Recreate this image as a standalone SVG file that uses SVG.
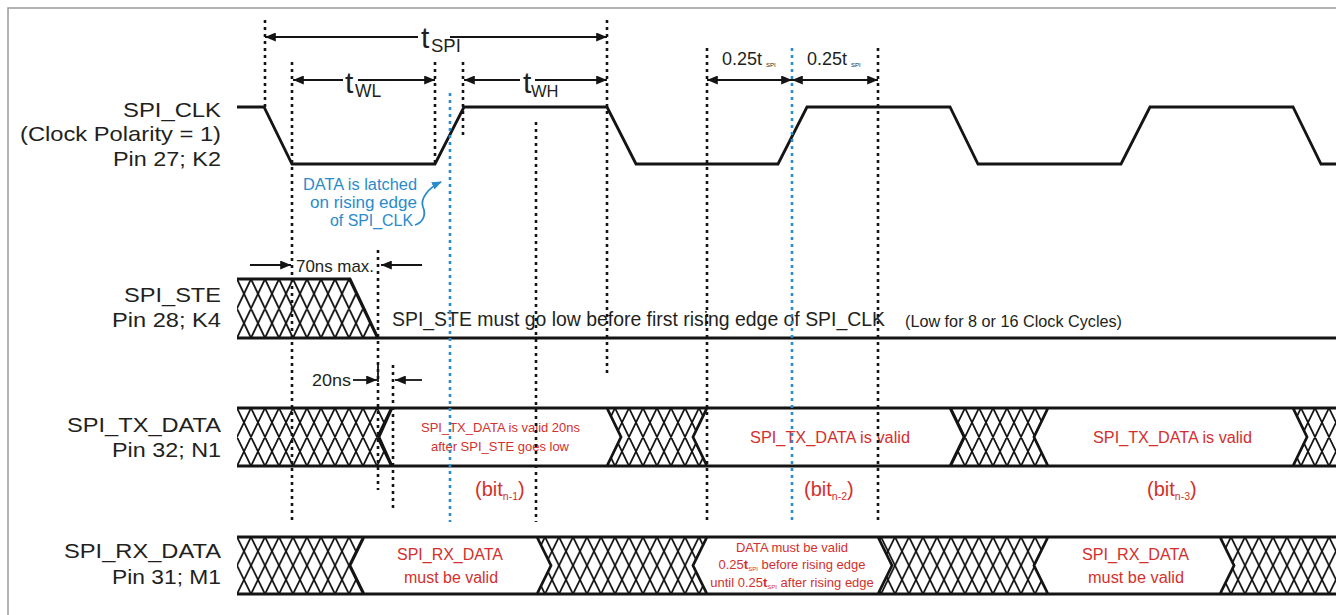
<svg xmlns="http://www.w3.org/2000/svg" width="1336" height="615" viewBox="0 0 1336 615">
<style>
text{font-family:"Liberation Sans",Arial,Helvetica,sans-serif}
.lbl{font-size:21px;fill:#231f20}
.blk{fill:#231f20}
.red{fill:#d3302d}
.blue{fill:#2a8bcb}
.wave{fill:none;stroke:#141414;stroke-width:2.8;stroke-linejoin:miter}
.band{fill:none;stroke:#141414;stroke-width:2.8;stroke-linejoin:miter}
.dot{fill:none;stroke:#141414;stroke-width:2.6;stroke-dasharray:3 4}
.bdot{fill:none;stroke:#2b8ccc;stroke-width:2.6;stroke-dasharray:3 4}
.dim{fill:none;stroke:#141414;stroke-width:1.8}
.frame{fill:none;stroke:#9a9a9a;stroke-width:1.5}
</style>
<defs>
<pattern id="hSTE" patternUnits="userSpaceOnUse" x="237" y="279" width="14" height="29.5">
<path d="M-14.95,-2 L0.95,31.5 M-0.95,-2 L14.95,31.5 M13.05,-2 L28.95,31.5 M0.95,-2 L-14.95,31.5 M14.95,-2 L-0.95,31.5 M28.95,-2 L13.05,31.5" stroke="#141414" stroke-width="1.8" fill="none"/>
</pattern>
<pattern id="hTX" patternUnits="userSpaceOnUse" x="237" y="408" width="14" height="29">
<path d="M-14.97,-2 L0.97,31 M-0.97,-2 L14.97,31 M13.03,-2 L28.97,31 M0.97,-2 L-14.97,31 M14.97,-2 L-0.97,31 M28.97,-2 L13.03,31" stroke="#141414" stroke-width="1.8" fill="none"/>
</pattern>
<pattern id="hRX" patternUnits="userSpaceOnUse" x="237" y="537" width="14" height="28.5">
<path d="M-14.98,-2 L0.98,30.5 M-0.98,-2 L14.98,30.5 M13.02,-2 L28.98,30.5 M0.98,-2 L-14.98,30.5 M14.98,-2 L-0.98,30.5 M28.98,-2 L13.02,30.5" stroke="#141414" stroke-width="1.8" fill="none"/>
</pattern>
<marker id="ah" viewBox="0 0 12 10" refX="12" refY="5" markerWidth="12" markerHeight="9" markerUnits="userSpaceOnUse" orient="auto-start-reverse">
<path d="M0,0 L12,5 L0,10 z" fill="#141414"/>
</marker>
<marker id="bah" viewBox="0 0 10 8" refX="9" refY="4" markerWidth="10" markerHeight="8" markerUnits="userSpaceOnUse" orient="auto">
<path d="M0,0 L10,4 L0,8 z" fill="#2a8bcb"/>
</marker>
</defs>

<rect width="1336" height="615" fill="#ffffff"/>
<path class="frame" d="M8,615 V8 H1336"/>

<g id="clk">
<text class="lbl" x="123" y="117" textLength="98" lengthAdjust="spacingAndGlyphs">SPI_CLK</text>
<text class="lbl" x="20" y="141" textLength="201" lengthAdjust="spacingAndGlyphs">(Clock Polarity = 1)</text>
<text class="lbl" x="113" y="166" textLength="108" lengthAdjust="spacingAndGlyphs">Pin 27; K2</text>
<path class="wave" d="M237,107 L264,107 L292,164 L435,164 L464,107 L607,107 L636,164 L778,164 L807,107 L950,107 L978,164 L1121,164 L1150,107 L1293,107 L1321,164 L1336,164"/>
</g>

<g id="ste">
<text class="lbl" x="124" y="302" textLength="97" lengthAdjust="spacingAndGlyphs">SPI_STE</text>
<text class="lbl" x="112" y="327" textLength="109" lengthAdjust="spacingAndGlyphs">Pin 28; K4</text>
<polygon points="237,279 350,279 378,338 237,338" fill="url(#hSTE)"/>
<path class="band" d="M237,279 H350 L378,338 M237,338 H1336"/>
<text class="blk" x="392" y="326" font-size="20" textLength="493" lengthAdjust="spacingAndGlyphs">SPI_STE must go low before first rising edge of SPI_CLK</text>
<text class="blk" x="905" y="327" font-size="16" textLength="217" lengthAdjust="spacingAndGlyphs">(Low for 8 or 16 Clock Cycles)</text>
</g>

<g id="tx">
<text class="lbl" x="67" y="432" textLength="154" lengthAdjust="spacingAndGlyphs">SPI_TX_DATA</text>
<text class="lbl" x="112" y="457" textLength="109" lengthAdjust="spacingAndGlyphs">Pin 32; N1</text>
<polygon points="237,408 392,408 379,437 392,466 237,466" fill="url(#hTX)"/>
<polygon points="607,408 707,408 693,437 707,466 607,466 621,437" fill="url(#hTX)"/>
<polygon points="950,408 1048,408 1034,437 1048,466 950,466 964,437" fill="url(#hTX)"/>
<polygon points="1293,408 1336,408 1336,466 1293,466 1307,437" fill="url(#hTX)"/>
<path class="band" d="M237,408 H1336 M237,466 H1336 M392,408 L379,437 L392,466 M607,408 L621,437 L607,466 M707,408 L693,437 L707,466 M950,408 L964,437 L950,466 M1048,408 L1034,437 L1048,466 M1293,408 L1307,437 L1293,466"/>
<text class="red" x="421" y="432" font-size="13.5" textLength="159" lengthAdjust="spacingAndGlyphs">SPI_TX_DATA is valid 20ns</text>
<text class="red" x="431" y="451" font-size="13.5" textLength="138" lengthAdjust="spacingAndGlyphs">after SPI_STE goes low</text>
<text class="red" x="750" y="443" font-size="16" textLength="160" lengthAdjust="spacingAndGlyphs">SPI_TX_DATA is valid</text>
<text class="red" x="1093" y="443" font-size="16" textLength="159" lengthAdjust="spacingAndGlyphs">SPI_TX_DATA is valid</text>
<text class="red" x="475" y="496" font-size="20">(bit<tspan font-size="10.5" dy="4">n-1</tspan><tspan dy="-4">)</tspan></text>
<text class="red" x="804" y="496" font-size="20">(bit<tspan font-size="10.5" dy="4">n-2</tspan><tspan dy="-4">)</tspan></text>
<text class="red" x="1147" y="496" font-size="20">(bit<tspan font-size="10.5" dy="4">n-3</tspan><tspan dy="-4">)</tspan></text>
</g>

<g id="rx">
<text class="lbl" x="64" y="558" textLength="157" lengthAdjust="spacingAndGlyphs">SPI_RX_DATA</text>
<text class="lbl" x="112" y="584" textLength="109" lengthAdjust="spacingAndGlyphs">Pin 31; M1</text>
<polygon points="237,537 364,537 350,565.5 364,594 237,594" fill="url(#hRX)"/>
<polygon points="537,537 707,537 693,565.5 707,594 537,594 551,565.5" fill="url(#hRX)"/>
<polygon points="878,537 1048,537 1034,565.5 1048,594 878,594 892,565.5" fill="url(#hRX)"/>
<polygon points="1220,537 1336,537 1336,594 1220,594 1234,565.5" fill="url(#hRX)"/>
<path class="band" d="M237,537 H1336 M237,594 H1336 M364,537 L350,565.5 L364,594 M537,537 L551,565.5 L537,594 M707,537 L693,565.5 L707,594 M878,537 L892,565.5 L878,594 M1048,537 L1034,565.5 L1048,594 M1220,537 L1234,565.5 L1220,594"/>
<text class="red" x="397" y="560" font-size="16" textLength="106" lengthAdjust="spacingAndGlyphs">SPI_RX_DATA</text>
<text class="red" x="404" y="583" font-size="16" textLength="94" lengthAdjust="spacingAndGlyphs">must be valid</text>
<text class="red" x="1082" y="560" font-size="16" textLength="107" lengthAdjust="spacingAndGlyphs">SPI_RX_DATA</text>
<text class="red" x="1088" y="583" font-size="16" textLength="96" lengthAdjust="spacingAndGlyphs">must be valid</text>
<text class="red" x="792" y="552" font-size="13" text-anchor="middle">DATA must be valid</text>
<text class="red" x="792" y="569" font-size="13" text-anchor="middle">0.25<tspan font-weight="bold">t</tspan><tspan font-size="6" dy="2">SPI</tspan><tspan dy="-2"> before rising edge</tspan></text>
<text class="red" x="792" y="587" font-size="13" text-anchor="middle">until 0.25<tspan font-weight="bold">t</tspan><tspan font-size="6" dy="2">SPI</tspan><tspan dy="-2"> after rising edge</tspan></text>
</g>

<g id="latch-note">
<text class="blue" x="303" y="190" font-size="16" textLength="114" lengthAdjust="spacingAndGlyphs">DATA is latched</text>
<text class="blue" x="310" y="208" font-size="16" textLength="107" lengthAdjust="spacingAndGlyphs">on rising edge</text>
<text class="blue" x="330" y="226" font-size="16" textLength="83" lengthAdjust="spacingAndGlyphs">of SPI_CLK</text>
<path d="M415,225 C424,222 426,214 423,207 C420,199 428,188 441,182" fill="none" stroke="#2a8bcb" stroke-width="1.8" marker-end="url(#bah)"/>
</g>

<g id="timing-labels">
<text class="blk" x="421" y="48" font-size="30">t</text>
<text class="blk" x="431" y="52" font-size="18.5">SPI</text>
<text class="blk" x="345" y="93" font-size="30">t</text>
<text class="blk" x="355" y="97" font-size="17.5">WL</text>
<text class="blk" x="523" y="93" font-size="30">t</text>
<text class="blk" x="531" y="97" font-size="16.5">WH</text>
<text class="blk" x="722" y="65" font-size="18">0.25t</text>
<text class="blk" x="766" y="67" font-size="6">SPI</text>
<text class="blk" x="807" y="65" font-size="18">0.25t</text>
<text class="blk" x="851" y="67" font-size="6">SPI</text>
<text class="blk" x="296" y="272" font-size="17" textLength="78" lengthAdjust="spacingAndGlyphs">70ns max.</text>
<text class="blk" x="312" y="386" font-size="17" textLength="39" lengthAdjust="spacingAndGlyphs">20ns</text>
</g>

<g id="connectors">
<path class="dim" d="M418,37 H265" marker-end="url(#ah)"/>
<path class="dim" d="M450,37 H607" marker-end="url(#ah)"/>
<path class="dim" d="M343,80 H293" marker-end="url(#ah)"/>
<path class="dim" d="M358,80 H435" marker-end="url(#ah)"/>
<path class="dim" d="M520,80 H464" marker-end="url(#ah)"/>
<path class="dim" d="M535,80 H607" marker-end="url(#ah)"/>
<path class="dim" d="M707,80 H792" marker-start="url(#ah)" marker-end="url(#ah)"/>
<path class="dim" d="M792,80 H878" marker-start="url(#ah)" marker-end="url(#ah)"/>
<path class="dim" d="M250,265 H291" marker-end="url(#ah)"/>
<path class="dim" d="M422,265 H381" marker-end="url(#ah)"/>
<path class="dim" d="M353,380 H377" marker-end="url(#ah)"/>
<path class="dim" d="M422,380 H395" marker-end="url(#ah)"/>
<path class="dim" d="M378,364 V382"/>
<path class="dot" d="M265,20 V108"/>
<path class="dot" d="M292,62 V522"/>
<path class="dot" d="M378,250 V490"/>
<path class="dot" d="M393,365 V508"/>
<path class="dot" d="M435,62 V165"/>
<path class="dot" d="M463,62 V137"/>
<path class="dot" d="M536,122 V522"/>
<path class="dot" d="M607,20 V375"/>
<path class="dot" d="M707,48 V522"/>
<path class="dot" d="M878,48 V522"/>
<path class="bdot" d="M450,93 V522"/>
<path class="bdot" d="M792,48 V522"/>
</g>
</svg>
